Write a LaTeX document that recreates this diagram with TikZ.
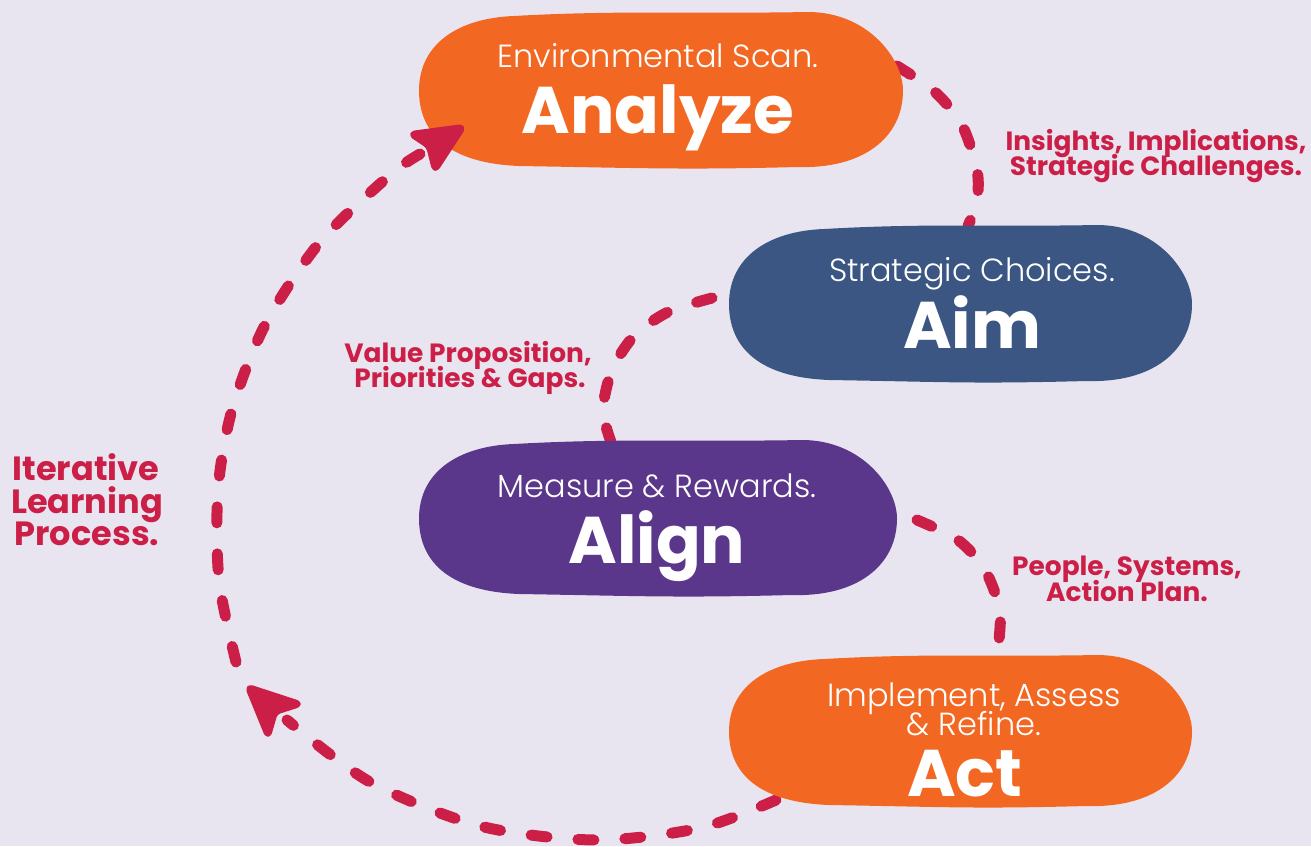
\documentclass[tikz,border=0pt]{standalone}
\usepackage{fontspec}
\setmainfont{Poppins}
\newfontfamily\poplight{Poppins}[UprightFont={* Light}]
\definecolor{bgc}{HTML}{E9E5F0}
\definecolor{orng}{HTML}{F26722}
\definecolor{navy}{HTML}{3B5682}
\definecolor{purp}{HTML}{5B378B}
\definecolor{crim}{HTML}{CC1F47}
\newcommand\drawblob[5]{%
  \fill[#5] ({#1+95},{#2+4})
    .. controls ({#1+200},{#2-2}) and ({#3-200},{#2+2}) .. ({#3-95},{#2})
    .. controls ({#3-35},{#2}) and ({#3},{#2+0.3*(#4-#2)}) .. ({#3},{#2+0.5*(#4-#2)})
    .. controls ({#3},{#2+0.8*(#4-#2)}) and ({#3-40},{#4}) .. ({#3-105},{#4-2})
    .. controls ({#3-220},{#4+1}) and ({#1+220},{#4-1}) .. ({#1+100},{#4-3})
    .. controls ({#1+25},{#4-6}) and ({#1},{#2+0.75*(#4-#2)}) .. ({#1},{#2+0.5*(#4-#2)})
    .. controls ({#1},{#2+0.2*(#4-#2)}) and ({#1+40},{#2+6}) .. ({#1+95},{#2+4}) -- cycle;}
\begin{document}
\begin{tikzpicture}[x=1pt,y=-1pt,
  subt/.style={anchor=base,text=white,inner sep=0pt,font=\poplight\fontsize{32}{36}\selectfont},
  ttl/.style={anchor=base,text=white,inner sep=0pt,font=\bfseries\fontsize{66}{70}\selectfont},
  lbl/.style={anchor=base,text=crim,inner sep=0pt,font=\bfseries\fontsize{26.4}{28}\selectfont},
  biglbl/.style={anchor=base,text=crim,inner sep=0pt,font=\bfseries\fontsize{33.6}{36}\selectfont},
  dashline/.style={draw=crim,line width=11pt,line cap=round,dash pattern=on 16pt off 31pt},
  arrowtip/.style={fill=crim,draw=crim,line width=6pt,line join=round,rounded corners=4pt}]
\useasboundingbox (0,0) rectangle (1311,846);
\fill[bgc] (0,0) rectangle (1311,846);
% connector coordinates
\coordinate (a1) at (897,66);
\coordinate (a2) at (935,92);
\coordinate (a3) at (962,125);
\coordinate (a4) at (977,170);
\coordinate (a5) at (977,200);
\coordinate (a6) at (968,226);
\coordinate (b1) at (712,298);
\coordinate (b2) at (668,312);
\coordinate (b3) at (634,336);
\coordinate (b4) at (612,370);
\coordinate (b5) at (603,410);
\coordinate (b6) at (611,442);
\coordinate (c1) at (917,520);
\coordinate (c2) at (958,540);
\coordinate (c3) at (985,570);
\coordinate (c4) at (1000,612);
\coordinate (c5) at (997,656);
\coordinate (d1) at (776,800);
\coordinate (d2) at (700,828);
\coordinate (d3) at (595,840);
\coordinate (d4) at (480,826);
\coordinate (d5) at (370,782);
\coordinate (d6) at (287,720);
\coordinate (e1) at (236,662);
\coordinate (e2) at (219,580);
\coordinate (e3) at (218,490);
\coordinate (e4) at (232,410);
\coordinate (e5) at (265,325);
\coordinate (e6) at (320,242);
\coordinate (e7) at (390,175);
\coordinate (e8) at (420,154);
% dashed connectors (behind blobs)
\draw[dashline] plot[smooth] coordinates {(a1) (a2) (a3) (a4) (a5) (a6)};
\draw[dashline] plot[smooth] coordinates {(b1) (b2) (b3) (b4) (b5) (b6)};
\draw[dashline] plot[smooth] coordinates {(c1) (c2) (c3) (c4) (c5)};
\draw[dashline] plot[smooth] coordinates {(d1) (d2) (d3) (d4) (d5) (d6)};
\draw[dashline] plot[smooth] coordinates {(e1) (e2) (e3) (e4) (e5) (e6) (e7) (e8)};
% blobs
\drawblob{419}{12}{903}{169}{orng}
\drawblob{729}{225}{1192}{383}{navy}
\drawblob{419}{440}{897}{597}{purp}
\drawblob{729}{655}{1192}{808}{orng}
% arrowheads
\coordinate (t1) at (463,127);
\coordinate (w1a) at (411,134);
\coordinate (n1) at (429,146);
\coordinate (w1b) at (435,170);
\draw[arrowtip] (t1) -- (w1a) -- (n1) -- (w1b) -- cycle;
\coordinate (t2) at (248,687);
\coordinate (w2a) at (300,704);
\coordinate (n2) at (275,712);
\coordinate (w2b) at (268,736);
\draw[arrowtip] (t2) -- (w2a) -- (n2) -- (w2b) -- cycle;
% blob texts
\node[subt] (s1) at (658,67) {Environmental Scan.};
\node[ttl] (h1) at (658,133) {Analyze};
\node[subt] (s2) at (972,281) {Strategic Choices.};
\node[ttl] (h2) at (972,348) {Aim};
\node[subt] (s3) at (657,497) {Measure \& Rewards.};
\node[ttl] (h3) at (657,563) {Align};
\node[subt] (s4a) at (974,706) {Implement, Assess};
\node[subt] (s4b) at (974,735) {\& Refine.};
\node[ttl] (h4) at (965,796) {Act};
% labels
\node[lbl] (l1a) at (1156,150) {Insights, Implications,};
\node[lbl] (l1b) at (1156,175) {Strategic Challenges.};
\node[lbl] (l2a) at (468,362) {Value Proposition,};
\node[lbl] (l2b) at (470,387) {Priorities \& Gaps.};
\node[lbl] (l3a) at (1127,575) {People, Systems,};
\node[lbl] (l3b) at (1127,601) {Action Plan.};
\node[biglbl] (l4a) at (86,480) {Iterative};
\node[biglbl] (l4b) at (87,513) {Learning};
\node[biglbl] (l4c) at (87,545) {Process.};
\end{tikzpicture}
\end{document}
